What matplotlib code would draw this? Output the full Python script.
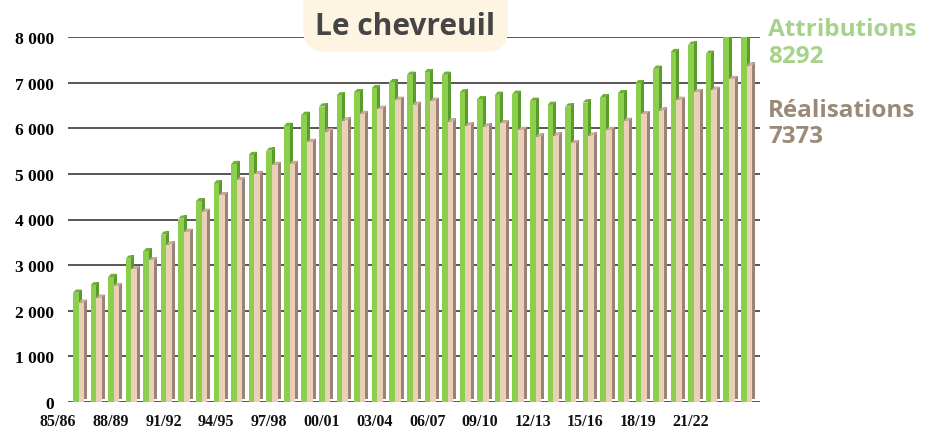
import matplotlib
matplotlib.use("Agg")
import matplotlib.pyplot as plt
import numpy as np
from matplotlib.patches import FancyBboxPatch
import matplotlib.transforms as mtransforms

# ---- data ----
seasons = ["85/86", "86/87", "87/88", "88/89", "89/90", "90/91", "91/92", "92/93",
           "93/94", "94/95", "95/96", "96/97", "97/98", "98/99", "99/00", "00/01",
           "01/02", "02/03", "03/04", "04/05", "05/06", "06/07", "07/08", "08/09",
           "09/10", "10/11", "11/12", "12/13", "13/14", "14/15", "15/16", "16/17",
           "17/18", "18/19", "19/20", "20/21", "21/22", "22/23", "23/24"]
attributions = [2395, 2557, 2740, 3143, 3304, 3670, 4020, 4400, 4790, 5216,
                5414, 5509, 6051, 6293, 6476, 6718, 6791, 6879, 7011, 7172,
                7231, 7172, 6784, 6637, 6733, 6755, 6601, 6513, 6476, 6564,
                6681, 6769, 6989, 7304, 7670, 7832, 7634, 8100, 8292]
realisations = [2176, 2286, 2542, 2908, 3106, 3450, 3729, 4168, 4535, 4864,
                4996, 5194, 5216, 5700, 5927, 6168, 6315, 6425, 6623, 6513,
                6601, 6147, 6059, 6037, 6110, 5963, 5817, 5839, 5670, 5839,
                5963, 6161, 6308, 6388, 6623, 6791, 6842, 7077, 7373]
ytick_values = [0, 1000, 2000, 3000, 4000, 5000, 6000, 7000, 8000]
title = "Le chevreuil"
label_attr = "Attributions"
label_real = "Réalisations"

# ---- styles ----
G_FRONT = "#8ccf4c"
G_SIDE = "#5b9a2c"
G_TOP = "#6fb136"
T_FRONT = "#ebd0b9"
T_SIDE = "#9c8377"
T_TOP = "#c8ab9a"
GRID = "#4a4a4a"

fig = plt.figure(figsize=(9.28, 4.31), dpi=100)
ax = fig.add_axes([68 / 928, 28 / 431, 692 / 928, 365 / 431])

x = np.arange(len(seasons))
att = np.array(attributions, dtype=float)
rea = np.array(realisations, dtype=float)

fw = 0.32   # front width
sw = 0.17   # side width
dy = 70     # depth offset in value units

g0 = x - 0.40
t0 = g0 + fw

# green side + top cap
ax.bar(g0 + fw, att, width=sw, bottom=dy, align="edge", color=G_SIDE, zorder=2, linewidth=0)
for xi, v in zip(g0, att):
    ax.fill([xi, xi + sw, xi + fw + sw, xi + fw], [v, v + dy, v + dy, v],
            color=G_TOP, zorder=2, linewidth=0)
ax.bar(g0, att, width=fw, align="edge", color=G_FRONT, zorder=3, linewidth=0)

# tan side + top cap
ax.bar(t0 + fw, rea, width=sw, bottom=dy, align="edge", color=T_SIDE, zorder=4, linewidth=0)
for xi, v in zip(t0, rea):
    ax.fill([xi, xi + sw, xi + fw + sw, xi + fw], [v, v + dy, v + dy, v],
            color=T_TOP, zorder=4, linewidth=0)
ax.bar(t0, rea, width=fw, align="edge", color=T_FRONT, zorder=5, linewidth=0)

ax.set_xlim(-0.68, len(seasons) - 1 + 0.68)
ax.set_ylim(0, 8000)
for s in ax.spines.values():
    s.set_visible(False)

ax.set_yticks(ytick_values)
ax.set_yticklabels([f"{v:,}".replace(",", " ") for v in ytick_values],
                   fontfamily="Liberation Serif", fontweight="bold", fontsize=12.5)
ax.tick_params(axis="y", length=0, pad=10)
ax.set_xticks([])
ax.yaxis.grid(True, color=GRID, linewidth=1.3, zorder=0)
ax.set_axisbelow(True)

# x labels (every 3rd season), slightly shifted left as in the original
trans = mtransforms.blended_transform_factory(ax.transData, ax.transAxes)
for i in range(0, len(seasons), 3):
    ax.text(i - 1.25, -0.052, seasons[i], transform=trans, ha="center", va="center",
            fontfamily="Liberation Serif", fontweight="bold", fontsize=11.5,
            color="#111111")

# title box
box = FancyBboxPatch((303 / 928, (431 - 53) / 431), 205 / 928, 70 / 431,
                     boxstyle="round,pad=0,rounding_size=0.025",
                     transform=fig.transFigure, facecolor="#fdf5e2",
                     edgecolor="none", zorder=10, mutation_aspect=928 / 431)
fig.add_artist(box)
fig.text(405 / 928, 1 - 27 / 431, title, ha="center", va="center",
         fontfamily="Open Sans", fontweight="bold", fontsize=21.5, color="#454545",
         zorder=11)

# right labels
tkw = dict(ha="left", va="baseline", fontfamily="Open Sans", fontweight="bold",
           fontsize=17.5)
fig.text(768 / 928, 1 - 36 / 431, label_attr, color="#a6d38b", **tkw)
fig.text(768 / 928, 1 - 63 / 431, str(attributions[-1]), color="#a6d38b", **tkw)
fig.text(768 / 928, 1 - 117 / 431, label_real, color="#9c8a79", **tkw)
fig.text(768 / 928, 1 - 143 / 431, str(realisations[-1]), color="#9c8a79", **tkw)

fig.savefig("out.png", dpi=100)
